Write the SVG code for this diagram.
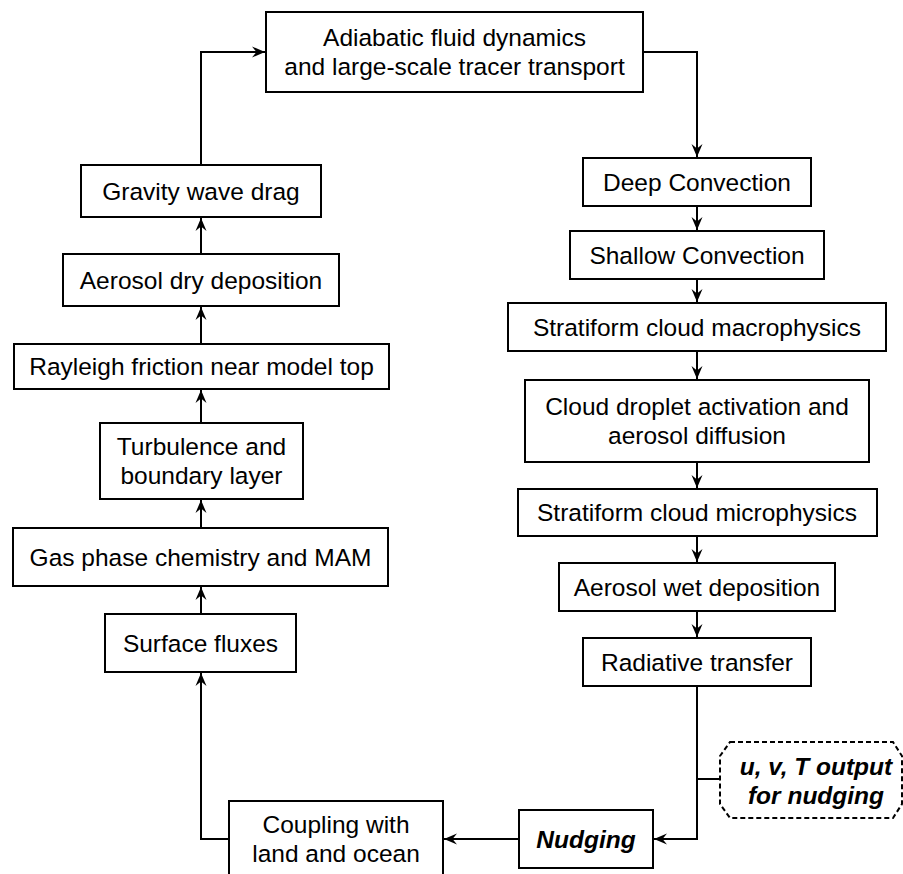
<svg xmlns="http://www.w3.org/2000/svg" width="903" height="874" viewBox="0 0 903 874">
<defs>
<style>
.box{fill:#fff;stroke:#000;stroke-width:2}
.dash{fill:#fff;stroke:#000;stroke-width:2;stroke-dasharray:5 3}
.t{font-family:"Liberation Sans",Arial,Helvetica,sans-serif;font-size:24.5px;fill:#000;text-anchor:middle}
.bi{font-weight:bold;font-style:italic}
.c{fill:none;stroke:#000;stroke-width:2}
</style>
<marker id="ah" markerUnits="userSpaceOnUse" markerWidth="16" markerHeight="14" viewBox="-14 -7 16 14" refX="0" refY="0" orient="auto">
<path d="M0,0 L-13,-5.5 L-8.5,0 L-13,5.5 Z" fill="#000"/>
</marker>
</defs>
<rect width="903" height="874" fill="#fff"/>
<g id="connectors">
<path class="c" d="M201,165 V52 H265" marker-end="url(#ah)"/>
<path class="c" d="M643,52 H697 V157" marker-end="url(#ah)"/>
<path class="c" d="M697,206 V230" marker-end="url(#ah)"/>
<path class="c" d="M697,279 V302" marker-end="url(#ah)"/>
<path class="c" d="M697,351 V379" marker-end="url(#ah)"/>
<path class="c" d="M697,462 V488" marker-end="url(#ah)"/>
<path class="c" d="M697,536 V562" marker-end="url(#ah)"/>
<path class="c" d="M697,611 V637" marker-end="url(#ah)"/>
<path class="c" d="M697,686 V839 H654" marker-end="url(#ah)"/>
<path class="c" d="M697,779 H720"/>
<path class="c" d="M519,839 H444" marker-end="url(#ah)"/>
<path class="c" d="M229,839 H201 V673" marker-end="url(#ah)"/>
<path class="c" d="M201,614 V587" marker-end="url(#ah)"/>
<path class="c" d="M201,528 V500" marker-end="url(#ah)"/>
<path class="c" d="M201,423 V390" marker-end="url(#ah)"/>
<path class="c" d="M201,344 V307" marker-end="url(#ah)"/>
<path class="c" d="M201,254 V218" marker-end="url(#ah)"/>
</g>
<g id="adiabatic"><rect class="box" x="266" y="12" width="377" height="80"/><text class="t" x="454.5" y="46">Adiabatic fluid dynamics</text><text class="t" x="454.5" y="75">and large-scale tracer transport</text></g>
<g id="deep"><rect class="box" x="583" y="158" width="228" height="48"/><text class="t" x="697" y="190.5">Deep Convection</text></g>
<g id="shallow"><rect class="box" x="570" y="231" width="254" height="48"/><text class="t" x="697" y="263.5">Shallow Convection</text></g>
<g id="macro"><rect class="box" x="508" y="303" width="378" height="48"/><text class="t" x="697" y="335.5">Stratiform cloud macrophysics</text></g>
<g id="droplet"><rect class="box" x="525" y="380" width="344" height="82"/><text class="t" x="697" y="415">Cloud droplet activation and</text><text class="t" x="697" y="444">aerosol diffusion</text></g>
<g id="micro"><rect class="box" x="518" y="489" width="359" height="47"/><text class="t" x="697" y="521">Stratiform cloud microphysics</text></g>
<g id="wetdep"><rect class="box" x="559" y="563" width="276" height="48"/><text class="t" x="697" y="595.5">Aerosol wet deposition</text></g>
<g id="radiative"><rect class="box" x="583" y="638" width="228" height="48"/><text class="t" x="697" y="670.5">Radiative transfer</text></g>
<g id="output"><path class="dash" d="M730,742 H893 L902,756 V804 L893,818 H730 L720,804 V756 Z"/><text class="t bi" x="816" y="775">u, v, T output</text><text class="t bi" x="816" y="804">for nudging</text></g>
<g id="nudging"><rect class="box" x="519" y="810" width="134" height="58"/><text class="t bi" x="586" y="847.5">Nudging</text></g>
<g id="coupling"><rect class="box" x="229" y="801" width="214" height="82"/><text class="t" x="336" y="833">Coupling with</text><text class="t" x="336" y="862">land and ocean</text></g>
<g id="surface"><rect class="box" x="105" y="614" width="191" height="58"/><text class="t" x="200.5" y="651.5">Surface fluxes</text></g>
<g id="gas"><rect class="box" x="13" y="528" width="375" height="58"/><text class="t" x="200.5" y="565.5">Gas phase chemistry and MAM</text></g>
<g id="turbulence"><rect class="box" x="100" y="423" width="203" height="76"/><text class="t" x="201.5" y="455">Turbulence and</text><text class="t" x="201.5" y="484">boundary layer</text></g>
<g id="rayleigh"><rect class="box" x="14" y="344" width="375" height="45"/><text class="t" x="201.5" y="375">Rayleigh friction near model top</text></g>
<g id="drydep"><rect class="box" x="63" y="254" width="276" height="52"/><text class="t" x="201" y="288.5">Aerosol dry deposition</text></g>
<g id="gravity"><rect class="box" x="81" y="165" width="240" height="52"/><text class="t" x="201" y="199.5">Gravity wave drag</text></g>
</svg>
